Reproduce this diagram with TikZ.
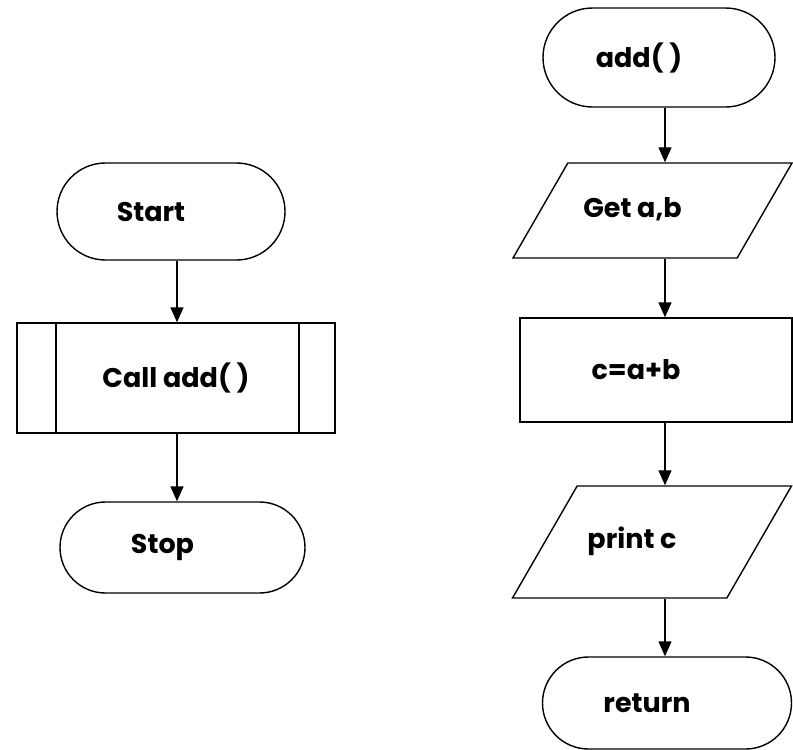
\documentclass[tikz,border=0pt]{standalone}
\usepackage{fontspec}
\setmainfont{Poppins}
\usepackage{tikz}
\usetikzlibrary{shapes.geometric, shapes.misc, arrows.meta}

% text sits a bit left of the box centre in the drawing
\newcommand{\lefttext}[1]{#1\hspace*{40pt}}

\begin{document}
\begin{tikzpicture}[x=1pt, y=-1pt,
        every node/.style={font=\fontsize{27}{31}\selectfont\bfseries},
        terminal/.style={draw, line width=1.4pt, rounded rectangle, inner sep=0pt},
        process/.style={draw, line width=1.4pt, rectangle, inner sep=0pt},
        io/.style={draw, line width=1.4pt, trapezium, trapezium left angle=60,
            trapezium right angle=120, trapezium stretches body, inner xsep=0pt,
            text height=19pt, text depth=6pt},
        arr/.style={line width=1.4pt, -{Triangle[width=13pt,length=15pt]}}]
        \useasboundingbox (0,0) rectangle (793,750);

        % Main program
        \node[terminal, minimum width=228, minimum height=97] (start) at (171,211.5) {\lefttext{Start}};
        \node[process, minimum width=318, minimum height=110] (call) at (176,378) {Call add( )};
        \node[terminal, minimum width=245, minimum height=91] (stop) at (182.5,547.5) {\lefttext{Stop}};
        \draw[line width=1.8pt] ([xshift=40pt]call.north west) -- ([xshift=40pt]call.south west);
        \draw[line width=1.8pt] ([xshift=-37pt]call.north east) -- ([xshift=-37pt]call.south east);

        % Function add
        \node[terminal, minimum width=232, minimum height=99] (addfn) at (659,57.5) {\lefttext{add( )}};
        \node[io, minimum width=279, inner ysep=35pt] (getab) at (652.5,210.5) {\lefttext{Get a,b}};
        \node[process, minimum width=272, minimum height=104] (sum) at (656,370) {\lefttext{c=a+b}};
        \node[io, minimum width=279, inner ysep=43.5pt] (printc) at (652,542) {\lefttext{print c}};
        \node[terminal, minimum width=249, minimum height=92] (ret) at (667,703) {\lefttext{return}};

        % Draw the arrows
        \coordinate (lcol) at (177,0);
        \coordinate (rcol) at (665,0);
        \draw[arr] (start.south -| lcol) -- (call.north -| lcol);
        \draw[arr] (call.south -| lcol) -- (stop.north -| lcol);
        \draw[arr] (addfn.south -| rcol) -- (getab.north -| rcol);
        \draw[arr] (getab.south -| rcol) -- (sum.north -| rcol);
        \draw[arr] (sum.south -| rcol) -- (printc.north -| rcol);
        \draw[arr] (printc.south -| rcol) -- (ret.north -| rcol);
    \end{tikzpicture}
\end{document}
